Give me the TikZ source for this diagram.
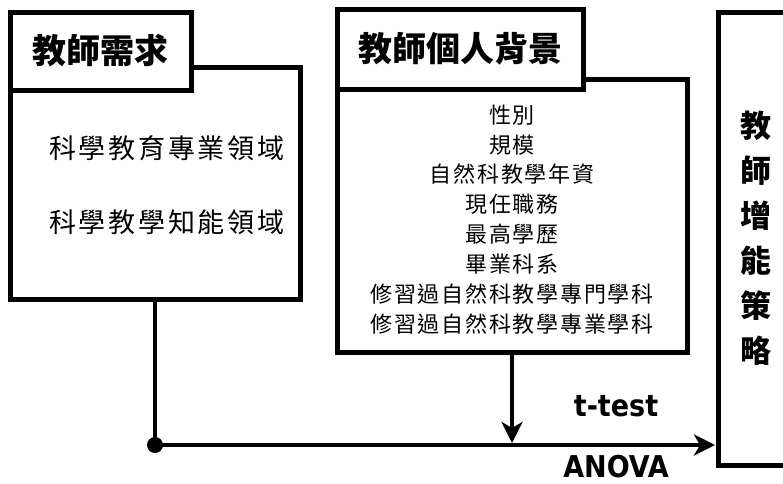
\documentclass[tikz,border=0pt]{standalone}
\usepackage{fontspec}
\usetikzlibrary{arrows.meta}
\newfontfamily\cjk{Noto Sans CJK TC}
\newfontfamily\statfont{DejaVu Sans Condensed}
\begin{document}
\begin{tikzpicture}[x=1pt,y=-1pt,
  box/.style={draw, line width=5pt, fill=white, inner sep=0pt, outer sep=0pt, anchor=north west},
  titlefont/.style={font=\cjk\bfseries\fontsize{34}{34}\selectfont},
  bodyA/.style={font=\cjk\addfontfeature{LetterSpace=10}\fontsize{27}{27}\selectfont, inner sep=0pt},
  bodyB/.style={font=\cjk\addfontfeature{LetterSpace=8}\fontsize{22}{29.9}\selectfont, align=center, inner sep=0pt},
  vert/.style={font=\cjk\bfseries\fontsize{31}{45}\selectfont, align=center, inner sep=0pt},
  stat/.style={font=\statfont\bfseries\fontsize{30}{30}\selectfont, inner sep=0pt, anchor=base},
  conn/.style={line width=4.5pt},
  tip/.style={-{Stealth[length=21pt,width=21pt,inset=6pt]}}
]
\useasboundingbox (0,0) rectangle (783,483);
% box 1
\node[box, minimum width=290pt, minimum height=232pt] (b1) at (10,67) {};
\node[box, titlefont, minimum width=181pt, minimum height=78pt] (t1) at (10,12) {教師需求};
\node[bodyA, anchor=west] (a1) at (49,148) {科學教育專業領域};
\node[bodyA, anchor=west] (a2) at (49,222) {科學教學知能領域};
% box 2
\node[box, minimum width=350pt, minimum height=273pt] (b2) at (337,79) {};
\node[box, titlefont, minimum width=246pt, minimum height=80pt] (t2) at (337,9) {教師個人背景};
\node[bodyB] (list) at (512,219.5) {性別\\規模\\自然科教學年資\\現任職務\\最高學歷\\畢業科系\\修習過自然科教學專門學科\\修習過自然科教學專業學科};
% box 3
\node[box, minimum width=120pt, minimum height=453pt] (b3) at (718,12) {};
\node[vert] (v) at (756,238) {教\\師\\增\\能\\策\\略};
% connectors
\node[circle, fill, minimum size=16pt, inner sep=0pt] (dot) at (155,445) {};
\draw[conn] (b1.south) -- (dot.center);
\draw[conn, tip, shorten >=3pt] (dot.center) -- (b3.west |- dot.center);
\draw[conn, tip, shorten >=2pt] (b2.south) -- (b2.south |- dot.center);
\node[stat] (tt) at (616,416) {t-test};
\node[stat] (an) at (616,477) {ANOVA};
\end{tikzpicture}
\end{document}
